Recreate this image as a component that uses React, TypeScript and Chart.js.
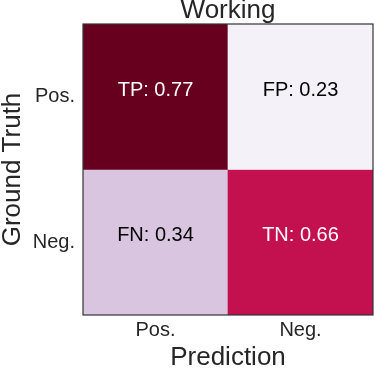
import React, { useEffect, useRef } from 'react';
import { Chart, registerables } from 'chart.js';

Chart.register(...registerables);

// ---- data ----
const predictionLabels = ['Pos.', 'Neg.'];
const truthLabels = ['Pos.', 'Neg.'];
const posRowValues = [0.77, 0.23];
const negRowValues = [0.34, 0.66];
const posRowTags = ['TP', 'FP'];
const negRowTags = ['FN', 'TN'];
const chartTitle = 'Working';
const xTitle = 'Prediction';
const yTitle = 'Ground Truth';

// ---- styles ----
const posRowColors = ['#67001f', '#f5f1f8'];
const negRowColors = ['#dac5e1', '#c3104f'];
const FONT = "'Liberation Sans', Arial, Helvetica, sans-serif";
const TEXT = '#262626';

const cellTextPlugin = {
  id: 'cellText',
  afterDatasetsDraw(chart: any) {
    const ctx = chart.ctx;
    chart.data.datasets.forEach((ds: any, di: number) => {
      const meta = chart.getDatasetMeta(di);
      meta.data.forEach((el: any, i: number) => {
        const v = ds.values[i];
        const { x, y, base } = el.getProps(['x', 'y', 'base'], true);
        ctx.save();
        ctx.font = `20px ${FONT}`;
        ctx.fillStyle = v > 0.5 ? '#ffffff' : '#000000';
        ctx.textAlign = 'center';
        ctx.textBaseline = 'alphabetic';
        ctx.fillText(`${ds.tags[i]}: ${v.toFixed(2)}`, x, (y + base) / 2 - 1);
        ctx.restore();
      });
    });
  },
};

const framePlugin = {
  id: 'frame',
  afterDraw(chart: any) {
    const { ctx, chartArea } = chart;
    ctx.save();
    ctx.strokeStyle = '#333333';
    ctx.lineWidth = 1.2;
    ctx.strokeRect(chartArea.left, chartArea.top, chartArea.right - chartArea.left, chartArea.bottom - chartArea.top);
    ctx.restore();
  },
};

export default function App() {
  const ref = useRef<HTMLCanvasElement | null>(null);

  useEffect(() => {
    if (!ref.current) return;
    const rows = [
      { values: posRowValues, tags: posRowTags, colors: posRowColors, level: 1 },
      { values: negRowValues, tags: negRowTags, colors: negRowColors, level: 0 },
    ];
    const chart = new Chart(ref.current, {
      type: 'bar',
      data: {
        labels: predictionLabels,
        datasets: rows.map((r, i) => ({
          label: truthLabels[i],
          data: r.values.map(() => [r.level, r.level + 1]),
          backgroundColor: r.colors,
          borderWidth: 0,
          barPercentage: 1,
          categoryPercentage: 1,
          grouped: false,
          values: r.values,
          tags: r.tags,
        })) as any,
      },
      options: {
        animation: false,
        responsive: false,
        devicePixelRatio: 1,
        layout: { padding: { left: 0, right: 1, top: 0, bottom: 0 } },
        plugins: {
          legend: { display: false },
          tooltip: { enabled: false },
          title: { display: false },
        },
        scales: {
          x: {
            type: 'category',
            position: 'bottom',
            offset: true,
            grid: { display: false, drawTicks: false },
            border: { display: false },
            ticks: { color: TEXT, font: { family: FONT, size: 20 }, padding: 3, maxRotation: 0 },
            title: { display: true, text: xTitle, color: TEXT, font: { family: FONT, size: 26, lineHeight: 1.2 }, padding: 0 },
            afterFit: (s: any) => { s.height = 58; },
          },
          x2: {
            type: 'category',
            position: 'top',
            labels: predictionLabels,
            offset: true,
            grid: { display: false, drawTicks: false },
            border: { display: false },
            ticks: { display: false },
            title: { display: true, text: chartTitle, color: TEXT, font: { family: FONT, size: 26, lineHeight: 0.8 }, padding: 0 },
            afterFit: (s: any) => { s.height = 24; },
          },
          y: {
            type: 'linear',
            min: 0,
            max: 2,
            grid: { display: false, drawTicks: false },
            border: { display: false },
            afterBuildTicks: (s: any) => { s.ticks = [{ value: 0.5 }, { value: 1.5 }]; },
            ticks: {
              color: TEXT,
              font: { family: FONT, size: 20 },
              padding: 8,
              callback: (v: any) => (Number(v) > 1 ? truthLabels[0] : truthLabels[1]),
            },
            title: { display: true, text: yTitle, color: TEXT, font: { family: FONT, size: 26, lineHeight: 1 }, padding: 0 },
            afterFit: (s: any) => { s.width = 83; },
          },
        },
      } as any,
      plugins: [cellTextPlugin, framePlugin],
    });
    return () => chart.destroy();
  }, []);

  return (
    <div style={{ position: 'absolute', left: 0, top: 0, width: 374, height: 373 }}>
      <canvas ref={ref} width={374} height={373} style={{ width: 374, height: 373, display: 'block' }} />
    </div>
  );
}
